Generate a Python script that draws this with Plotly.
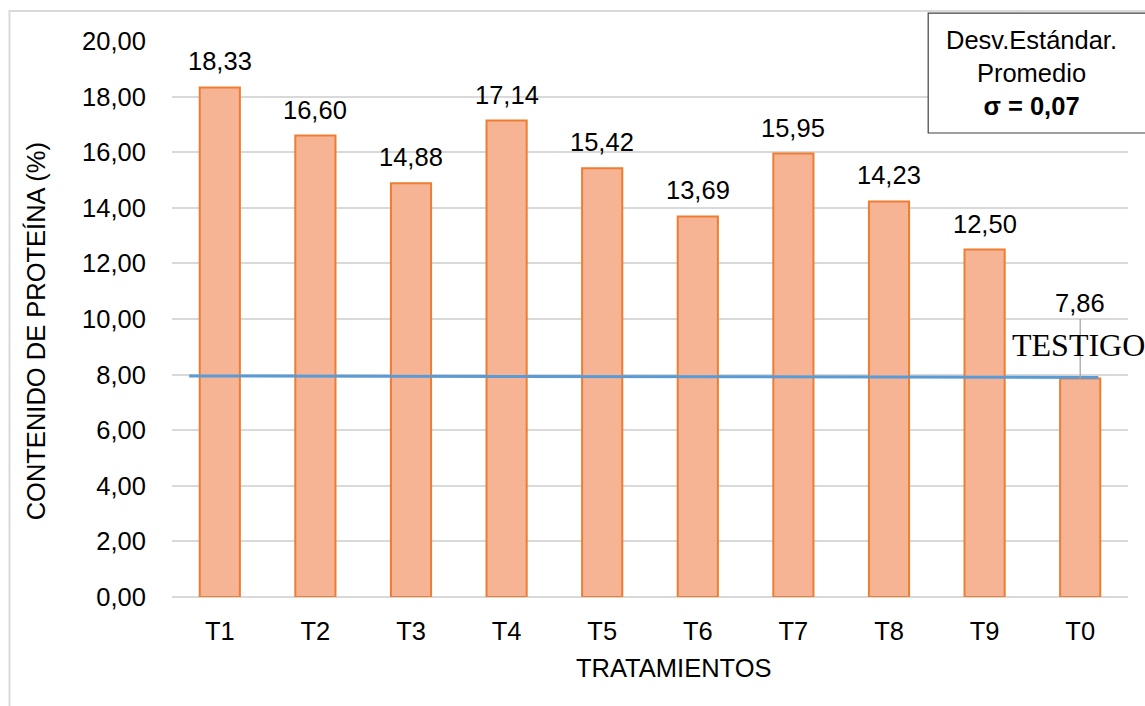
import plotly.graph_objects as go

categories = ["T1", "T2", "T3", "T4", "T5", "T6", "T7", "T8", "T9", "T0"]
protein = [18.33, 16.60, 14.88, 17.14, 15.42, 13.69, 15.95, 14.23, 12.50, 7.86]
ref_line_x = [-0.32, 9.19]
ref_line_y = [7.95, 7.90]
y_ticks = [0, 2, 4, 6, 8, 10, 12, 14, 16, 18, 20]

FONT = "Arial, Liberation Sans, sans-serif"
FS = 25.5
x_idx = list(range(len(categories)))

fig = go.Figure()
fig.add_trace(go.Bar(
    x=x_idx, y=protein, width=0.42,
    marker=dict(color="#F6B495", line=dict(color="#ED7D31", width=2)),
    hoverinfo="skip", showlegend=False,
))
fig.add_trace(go.Scatter(
    x=ref_line_x, y=ref_line_y, mode="lines",
    line=dict(color="#5B9BD5", width=3), showlegend=False, hoverinfo="skip",
))

annotations = []
for i, v in enumerate(protein):
    label = f"{v:.2f}".replace(".", ",")
    if i == len(protein) - 1:
        annotations.append(dict(
            x=i, y=v, xref="x", yref="y", text=label, showarrow=True,
            arrowhead=0, arrowwidth=1.3, arrowcolor="#A6A6A6", ax=0, ay=-75,
            font=dict(family=FONT, size=FS, color="#000000"),
        ))
    else:
        annotations.append(dict(
            x=i, y=v, xref="x", yref="y", text=label, showarrow=False,
            xanchor="center", yanchor="middle", yshift=26,
            font=dict(family=FONT, size=FS, color="#000000"),
        ))

annotations.append(dict(
    x=9, y=9.06, xref="x", yref="y", text="TESTIGO", showarrow=False,
    xanchor="center", yanchor="middle", xshift=-2,
    font=dict(family="Times New Roman, Liberation Serif, serif", size=32, color="#000000"),
))
annotations.append(dict(
    x=0.8986, y=0.942, xref="paper", yref="paper", showarrow=False,
    xanchor="center", yanchor="middle",
    text="Desv.Estándar.<br>Promedio<br><b>σ = 0,07</b>",
    font=dict(family=FONT, size=FS, color="#000000"), align="center",
))
annotations.append(dict(
    x=-0.1427, y=0.477, xref="paper", yref="paper", showarrow=False,
    xanchor="center", yanchor="middle",
    text="CONTENIDO DE PROTEÍNA (%)", textangle=-90,
    font=dict(family=FONT, size=FS, color="#000000"),
))
annotations.append(dict(
    x=0.525, y=-0.1277, xref="paper", yref="paper", showarrow=False,
    xanchor="center", yanchor="middle",
    text="TRATAMIENTOS",
    font=dict(family=FONT, size=FS, color="#000000"),
))

shapes = [
    dict(type="rect", xref="paper", yref="paper", x0=-0.170, x1=1.2, y0=-0.5, y1=1.054,
         line=dict(color="#D9D9D9", width=2), fillcolor="rgba(0,0,0,0)", layer="below"),
    dict(type="rect", xref="paper", yref="paper", x0=0.791, x1=1.1, y0=0.8345, y1=1.050,
         line=dict(color="#404040", width=1.2), fillcolor="#FFFFFF"),
]

fig.update_layout(
    width=1145, height=706,
    margin=dict(l=171.5, r=17, t=41, b=109),
    paper_bgcolor="#FFFFFF", plot_bgcolor="#FFFFFF",
    separators=",.",
    annotations=annotations, shapes=shapes,
)
fig.update_xaxes(
    range=[-0.5, 9.5], tickvals=x_idx, ticktext=categories,
    showgrid=False, zeroline=False, showline=False,
    ticks="outside", ticklen=11, tickcolor="rgba(0,0,0,0)",
    tickfont=dict(family=FONT, size=FS, color="#000000"),
)
fig.update_yaxes(
    range=[0, 20], tickvals=y_ticks, tickformat=".2f",
    showgrid=True, gridcolor="#D9D9D9", gridwidth=1.5,
    zeroline=True, zerolinecolor="#D9D9D9", zerolinewidth=1.5, showline=False,
    ticks="outside", ticklen=20, tickcolor="rgba(0,0,0,0)",
    tickfont=dict(family=FONT, size=FS, color="#000000"),
)

fig.write_html("out.html")
